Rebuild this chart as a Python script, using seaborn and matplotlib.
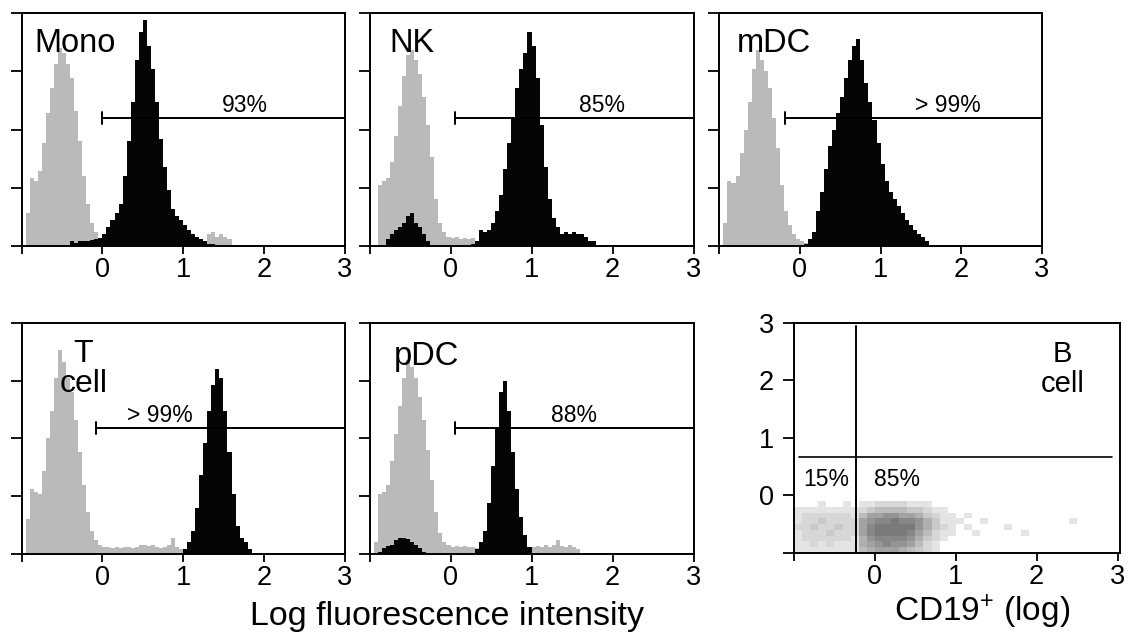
import numpy as np
import pandas as pd
import matplotlib
matplotlib.use("Agg")
import matplotlib.pyplot as plt
import seaborn as sns
from matplotlib.colors import LinearSegmentedColormap

# ---------------- data ----------------
BIN = 0.05  # histogram bin width in log units

panel_names = ["Mono", "NK", "mDC", "T cell", "pDC"]
gate_starts = [0.0, 0.06, -0.18, -0.08, 0.05]
gate_labels = ["93%", "85%", "> 99%", "> 99%", "88%"]
gate_label_x = [1.77, 1.87, 1.84, 0.71, 1.52]

# control (grey) and stained (black) histograms: first bin left edge + heights
mono_ctrl_start = -0.95
mono_ctrl = [0.14, 0.29, 0.28, 0.32, 0.44, 0.57, 0.68, 0.78, 0.85, 0.83,
             0.78, 0.72, 0.58, 0.45, 0.30, 0.18, 0.10, 0.06, 0.03,
             0.02, 0.015, 0.02, 0.015, 0.01, 0.015, 0.02, 0.015, 0.01, 0.015,
             0.02, 0.015, 0.01, 0.015, 0.02, 0.015, 0.01, 0.015, 0.02, 0.015,
             0.01, 0.015, 0.02, 0.015, 0.02, 0.02,
             0.05, 0.06, 0.04, 0.05, 0.04, 0.03]
mono_stain_start = -0.40
mono_stain = [0.02, 0.015, 0.02, 0.02, 0.02, 0.025, 0.03, 0.035,
              0.05, 0.08, 0.11, 0.14, 0.18, 0.30, 0.45, 0.62, 0.80, 0.92,
              0.97, 0.86, 0.76, 0.62, 0.46, 0.34, 0.24, 0.16, 0.13, 0.11,
              0.09, 0.07, 0.05, 0.04, 0.03, 0.02, 0.01, 0.01]

nk_ctrl_start = -0.90
nk_ctrl = [0.26, 0.28, 0.29, 0.36, 0.47, 0.60, 0.73, 0.82, 0.84, 0.80,
           0.74, 0.64, 0.52, 0.38, 0.20, 0.10, 0.06, 0.04,
           0.035, 0.04, 0.03, 0.035, 0.03, 0.035, 0.02]
nk_stain_start = -0.80
nk_stain = [0.03, 0.05, 0.07, 0.08, 0.10, 0.13, 0.14, 0.10, 0.08, 0.05, 0.02,
            0, 0, 0, 0, 0, 0, 0, 0, 0, 0,
            0.01, 0.02, 0.07, 0.06, 0.07, 0.10, 0.15, 0.22, 0.33, 0.44,
            0.55, 0.68, 0.76, 0.83, 0.92, 0.86, 0.72, 0.52, 0.34, 0.20,
            0.12, 0.08, 0.05, 0.06, 0.05, 0.06, 0.05, 0.05, 0.04, 0.02, 0.02]

mdc_ctrl_start = -0.95
mdc_ctrl = [0.10, 0.28, 0.27, 0.30, 0.40, 0.50, 0.62, 0.76, 0.84, 0.80,
            0.75, 0.68, 0.55, 0.42, 0.26, 0.15, 0.09, 0.05, 0.03,
            0.02, 0.015, 0.01]
mdc_stain_start = 0.05
mdc_stain = [0.01, 0.03, 0.06, 0.15, 0.23, 0.33, 0.43, 0.50, 0.57, 0.64,
             0.72, 0.80, 0.86, 0.89, 0.80, 0.70, 0.62, 0.54, 0.44, 0.35,
             0.28, 0.23, 0.20, 0.17, 0.14, 0.11, 0.09, 0.07, 0.05, 0.04, 0.02]

t_ctrl_start = -0.95
t_ctrl = [0.15, 0.28, 0.27, 0.26, 0.36, 0.50, 0.62, 0.76, 0.88, 0.83,
          0.76, 0.70, 0.58, 0.44, 0.30, 0.18, 0.10, 0.06, 0.04,
          0.03, 0.03, 0.025, 0.03, 0.025, 0.03, 0.03, 0.025, 0.03, 0.04,
          0.04, 0.035, 0.04, 0.03, 0.025, 0.03, 0.04, 0.07, 0.03, 0.02]
t_stain_start = 1.00
t_stain = [0.02, 0.05, 0.10, 0.20, 0.34, 0.48, 0.62, 0.73, 0.80, 0.76,
           0.62, 0.44, 0.26, 0.12, 0.07, 0.05, 0.02]

pdc_ctrl_start = -0.95
pdc_ctrl = [0.05, 0.26, 0.27, 0.30, 0.40, 0.52, 0.64, 0.76, 0.84, 0.81,
            0.76, 0.68, 0.58, 0.45, 0.32, 0.18, 0.09, 0.05, 0.04,
            0.03, 0.035, 0.03, 0.035, 0.03, 0.03, 0.025, 0.02,
            0.02, 0.02, 0.02, 0.02, 0.02, 0.02, 0.02, 0.02, 0.02, 0.02, 0.02, 0.02,
            0.03, 0.035, 0.03, 0.04, 0.03, 0.04, 0.06, 0.035, 0.03, 0.04, 0.03, 0.02]
pdc_stain_start = -0.90
pdc_stain = [0.01, 0.025, 0.035, 0.04, 0.06, 0.07, 0.07, 0.065, 0.05, 0.04, 0.025, 0.01,
             0, 0, 0, 0, 0, 0, 0, 0, 0, 0, 0, 0,
             0.02, 0.05, 0.10, 0.22, 0.38, 0.54, 0.70, 0.75, 0.62, 0.44,
             0.28, 0.16, 0.08, 0.03]

ctrl_series = [(mono_ctrl_start, mono_ctrl), (nk_ctrl_start, nk_ctrl),
               (mdc_ctrl_start, mdc_ctrl), (t_ctrl_start, t_ctrl),
               (pdc_ctrl_start, pdc_ctrl)]
stain_series = [(mono_stain_start, mono_stain), (nk_stain_start, nk_stain),
                (mdc_stain_start, mdc_stain), (t_stain_start, t_stain),
                (pdc_stain_start, pdc_stain)]

x_tick_vals = [-1, 0, 1, 2, 3]
x_tick_labels = ["", "0", "1", "2", "3"]
y_tick_vals_b = [-1, 0, 1, 2, 3]
y_tick_labels_b = ["", "0", "1", "2", "3"]

# B-cell dot plot: density of events on a 0.1 x 0.1 log grid
b_x_centers = [-0.95, -0.85, -0.75, -0.65, -0.55, -0.45, -0.35, -0.25, -0.15, -0.05,
               0.05, 0.15, 0.25, 0.35, 0.45, 0.55, 0.65, 0.75, 0.85, 0.95,
               1.05, 1.15, 1.25, 1.35, 1.45, 1.55, 1.65, 1.75, 1.85, 1.95,
               2.05, 2.15, 2.25, 2.35, 2.45, 2.55]
b_y_centers = [-0.15, -0.25, -0.35, -0.45, -0.55, -0.65, -0.75, -0.85, -0.95]
b_density = [
    [0, 0, 0, 1, 0, 0, 1, 0, 1, 1, 2, 2, 2, 2, 1, 1, 1, 0, 0, 0, 0, 0, 0, 0, 0, 0, 0, 0, 0, 0, 0, 0, 0, 0, 0, 0],
    [1, 1, 1, 1, 1, 1, 1, 1, 2, 3, 4, 4, 4, 4, 3, 3, 2, 1, 1, 0, 0, 0, 0, 0, 0, 0, 0, 0, 0, 0, 0, 0, 0, 0, 0, 0],
    [1, 2, 2, 2, 2, 2, 2, 1, 4, 6, 6, 7, 7, 6, 6, 5, 3, 2, 1, 1, 0, 1, 0, 0, 0, 0, 0, 0, 0, 0, 0, 0, 0, 0, 0, 0],
    [1, 2, 2, 3, 2, 2, 2, 2, 6, 7, 8, 8, 9, 8, 8, 7, 5, 3, 1, 1, 1, 0, 0, 1, 0, 0, 0, 0, 0, 0, 0, 0, 0, 0, 1, 0],
    [2, 2, 3, 2, 2, 3, 2, 2, 6, 8, 9, 9, 9, 9, 9, 7, 5, 3, 2, 1, 0, 1, 0, 0, 0, 0, 1, 0, 0, 0, 0, 0, 0, 0, 0, 0],
    [1, 2, 2, 2, 3, 2, 2, 2, 6, 8, 9, 9, 9, 9, 8, 6, 4, 2, 1, 1, 0, 0, 1, 0, 0, 0, 0, 0, 1, 0, 0, 0, 0, 0, 0, 0],
    [1, 2, 2, 2, 2, 2, 2, 1, 5, 7, 8, 8, 8, 8, 7, 5, 3, 2, 1, 0, 0, 0, 0, 0, 0, 0, 0, 0, 0, 0, 0, 0, 0, 0, 0, 0],
    [1, 1, 2, 1, 2, 1, 1, 1, 5, 6, 7, 8, 7, 7, 6, 4, 2, 1, 0, 0, 0, 0, 0, 0, 0, 0, 0, 0, 0, 0, 0, 0, 0, 0, 0, 0],
    [1, 1, 1, 1, 1, 1, 1, 1, 4, 5, 6, 6, 6, 5, 4, 3, 2, 1, 0, 0, 0, 0, 0, 0, 0, 0, 0, 0, 0, 0, 0, 0, 0, 0, 0, 0],
]
b_gate_x = -0.23
b_gate_y = 0.67
b_quad_labels = ["15%", "85%"]

# ---------------- style ----------------
sns.set_theme(style="white")
plt.rcParams["font.family"] = ["Liberation Sans", "DejaVu Sans"]
plt.rcParams["mathtext.fontset"] = "custom"
plt.rcParams["mathtext.rm"] = "Liberation Sans"
plt.rcParams["mathtext.it"] = "Liberation Sans:italic"
plt.rcParams["mathtext.default"] = "regular"
plt.rcParams["text.color"] = "black"
plt.rcParams["axes.labelcolor"] = "black"
plt.rcParams["xtick.color"] = "black"
plt.rcParams["ytick.color"] = "black"

GREY = "#bababa"
BLACK = "#050505"
W, H = 1133, 633

fig = plt.figure(figsize=(W / 100, H / 100), dpi=100)


def frac(x0, y0, x1, y1):
    return [x0 / W, (H - y1) / H, (x1 - x0) / W, (y1 - y0) / H]


hist_boxes = [frac(21.7, 13, 344.5, 246), frac(369.5, 13, 693.5, 246),
              frac(719.4, 13, 1041.7, 246), frac(21.7, 322.7, 344.5, 554),
              frac(369.5, 322.7, 693.5, 554)]
b_box = frac(794, 322.7, 1120, 553)

edges = [round(-1.0 + k * BIN, 4) for k in range(81)]


def style_axes(ax):
    for s in ax.spines.values():
        s.set_visible(True)
        s.set_color("black")
        s.set_linewidth(1.4)
    ax.tick_params(axis="x", which="major", direction="out", length=6, width=1.3,
                   pad=2.0, labelsize=19.5, bottom=True, colors="black",
                   labelcolor="black")
    ax.tick_params(axis="y", which="major", direction="out", length=8, width=1.3,
                   left=True, colors="black", labelcolor="black")
    ax.set_xlabel("")
    ax.set_ylabel("")


def draw_hist(ax, start, vals, color):
    df = pd.DataFrame({"x": [start + (i + 0.5) * BIN for i in range(len(vals))],
                       "w": [float(v) for v in vals]})
    sns.histplot(data=df, x="x", weights="w", bins=edges, element="step", fill=True,
                 color=color, alpha=1, linewidth=0, ax=ax)


label_specs = [
    dict(x=-0.84, y=0.834, ha="left"),
    dict(x=-0.76, y=0.834, ha="left"),
    dict(x=-0.785, y=0.834, ha="left"),
    None,
    dict(x=-0.70, y=0.815, ha="left"),
]
gate_ys = [0.549, 0.548, 0.548, 0.543, 0.543]

for i, box in enumerate(hist_boxes):
    ax = fig.add_axes(box)
    draw_hist(ax, *ctrl_series[i], GREY)
    draw_hist(ax, *stain_series[i], BLACK)
    ax.set_xlim(-1, 3)
    ax.set_ylim(0, 1)
    ax.set_xticks(x_tick_vals)
    ax.set_xticklabels(x_tick_labels)
    ax.set_yticks([0, 0.25, 0.5, 0.75, 1.0])
    ax.set_yticklabels([])
    style_axes(ax)
    # gate marker
    gy = gate_ys[i]
    g0 = gate_starts[i]
    ax.plot([g0, 3], [gy, gy], color="black", lw=1.4, solid_capstyle="butt")
    ax.plot([g0, g0], [gy - 0.026, gy + 0.026], color="black", lw=1.4)
    ax.text(gate_label_x[i], gy + 0.027, gate_labels[i], ha="center", va="baseline",
            fontsize=16.5, color="black")
    # panel name
    if i == 3:
        ax.text(-0.245, 0.831, "T", ha="center", va="baseline", fontsize=23,
                color="black")
        ax.text(-0.23, 0.702, "cell", ha="center", va="baseline", fontsize=23,
                color="black")
    else:
        sp = label_specs[i]
        ax.text(sp["x"], sp["y"], panel_names[i], ha=sp["ha"], va="baseline",
                fontsize=23.5, color="black")

# ---------------- B cell dot plot ----------------
axb = fig.add_axes(b_box)
rows = []
for r, yc in enumerate(b_y_centers):
    for c, xc in enumerate(b_x_centers):
        rows.append((xc, yc, float(b_density[r][c])))
bdf = pd.DataFrame(rows, columns=["x", "y", "n"])
xe = [round(-1.0 + k * 0.1, 3) for k in range(37)]
ye = [round(-1.0 + k * 0.1, 3) for k in range(10)]
dot_cmap = LinearSegmentedColormap.from_list("dots", ["#f1f1f1", "#7a7a7a"])
sns.histplot(data=bdf, x="x", y="y", weights="n", bins=(xe, ye), cmap=dot_cmap,
             ax=axb)
axb.plot([b_gate_x, b_gate_x], [-1, 2.95], color="black", lw=1.4)
axb.plot([-0.94, 2.93], [b_gate_y, b_gate_y], color="black", lw=1.2)
axb.text(-0.6, 0.28, b_quad_labels[0], ha="center", va="center", fontsize=16.5,
         color="black")
axb.text(0.27, 0.28, b_quad_labels[1], ha="center", va="center", fontsize=16.5,
         color="black")
axb.text(2.32, 2.31, "B", ha="center", va="baseline", fontsize=21, color="black")
axb.text(2.32, 1.79, "cell", ha="center", va="baseline", fontsize=21, color="black")
axb.set_xlim(-1, 3.03)
axb.set_ylim(-1, 3)
axb.set_xticks(x_tick_vals)
axb.set_xticklabels(x_tick_labels)
axb.set_yticks(y_tick_vals_b)
axb.set_yticklabels(y_tick_labels_b)
style_axes(axb)
axb.tick_params(axis="y", labelsize=19.5, pad=6.5)

# ---------------- axis titles ----------------
fig.text(447 / W, (H - 625) / H, "Log fluorescence intensity", ha="center",
         va="baseline", fontsize=24.5, color="black")
fig.text(982 / W, (H - 621.7) / H, "CD19$^{+}$ (log)", ha="center",
         va="baseline", fontsize=24, color="black")

fig.savefig("out.png", dpi=100)
